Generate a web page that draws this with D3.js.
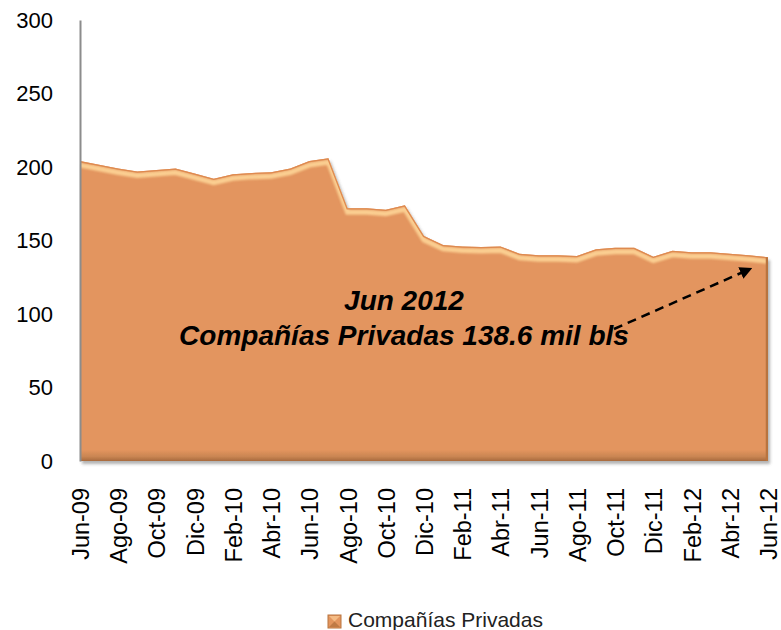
<!DOCTYPE html>
<html>
<head>
<meta charset="utf-8">
<script src="https://cdn.jsdelivr.net/npm/d3@7"></script>
<style>
  body { margin: 0; background: #fff; }
  svg { display: block; font-family: "Liberation Sans", Arial, sans-serif; }
</style>
</head>
<body>
<svg id="chart" width="781" height="630"></svg>
<script>
'use strict';

var months = ["Jun-09","Jul-09","Ago-09","Sep-09","Oct-09","Nov-09","Dic-09","Ene-10","Feb-10","Mar-10","Abr-10","May-10",
              "Jun-10","Jul-10","Ago-10","Sep-10","Oct-10","Nov-10","Dic-10","Ene-11","Feb-11","Mar-11","Abr-11","May-11",
              "Jun-11","Jul-11","Ago-11","Sep-11","Oct-11","Nov-11","Dic-11","Ene-12","Feb-12","Mar-12","Abr-12","May-12","Jun-12"];
var privadas = [204, 201.5, 199, 197, 198, 199, 195.5, 192, 195, 196, 196.5, 199,
                204, 206, 172, 172, 171, 174, 153, 147, 146, 145.5, 146, 141,
                140, 140, 139.5, 144, 145, 145, 139, 143, 142, 142, 141, 140, 138.6];
var yTicks = [0, 50, 100, 150, 200, 250, 300];
var seriesName = "Compañías Privadas";
var noteLines = ["Jun 2012", "Compañías Privadas 138.6 mil bls"];

var svg = d3.select("#chart"),
    margin = {top: 20, right: 13, bottom: 169, left: 80},
    width = +svg.attr("width") - margin.left - margin.right,
    height = +svg.attr("height") - margin.top - margin.bottom;

var x = d3.scalePoint().domain(months).range([margin.left, margin.left + width]);
var y = d3.scaleLinear().domain([0, 300]).range([margin.top + height, margin.top]);

var defs = svg.append("defs");

var fillGrad = defs.append("linearGradient")
    .attr("id", "fillGrad")
    .attr("gradientUnits", "userSpaceOnUse")
    .attr("x1", 0).attr("x2", 0)
    .attr("y1", y(300)).attr("y2", y(0));
fillGrad.append("stop").attr("offset", "0%").attr("stop-color", "#e3955e");
fillGrad.append("stop").attr("offset", "97.5%").attr("stop-color", "#e3955e");
fillGrad.append("stop").attr("offset", "99%").attr("stop-color", "#c98552");
fillGrad.append("stop").attr("offset", "100%").attr("stop-color", "#a86a3e");

var shadow = defs.append("filter").attr("id", "shadow")
    .attr("x", "-5%").attr("y", "-5%").attr("width", "110%").attr("height", "115%");
shadow.append("feDropShadow")
    .attr("dx", 2).attr("dy", 3).attr("stdDeviation", 1.5)
    .attr("flood-color", "#555").attr("flood-opacity", 0.45);

var soft = defs.append("filter").attr("id", "soft");
soft.append("feGaussianBlur").attr("stdDeviation", 1.2);

defs.append("marker")
    .attr("id", "arrow")
    .attr("viewBox", "0 0 10 10")
    .attr("refX", 8).attr("refY", 5)
    .attr("markerWidth", 5).attr("markerHeight", 5)
    .attr("orient", "auto")
  .append("path")
    .attr("d", "M0,0L10,5L0,10z")
    .attr("fill", "#000");

// area
var area = d3.area()
    .x(function(d, i) { return x(months[i]); })
    .y0(y(0))
    .y1(function(d) { return y(d); });

var line = d3.line()
    .x(function(d, i) { return x(months[i]); })
    .y(function(d) { return y(d); });

var g = svg.append("g");

g.append("path")
    .datum(privadas)
    .attr("d", area)
    .attr("fill", "url(#fillGrad)")
    .attr("filter", "url(#shadow)");

// bevel highlight along the top
var clip = defs.append("clipPath").attr("id", "areaClip");
clip.append("path").datum(privadas).attr("d", area);

var bevel = g.append("g").attr("clip-path", "url(#areaClip)");
bevel.append("path")
    .datum(privadas)
    .attr("d", line)
    .attr("transform", "translate(0,4)")
    .attr("fill", "none")
    .attr("stroke", "#fcd294")
    .attr("stroke-width", 5)
    .attr("opacity", 0.95)
    .attr("filter", "url(#soft)");
bevel.append("path")
    .datum(privadas)
    .attr("d", line)
    .attr("fill", "none")
    .attr("stroke", "#de8a50")
    .attr("stroke-width", 2.5);
bevel.append("line")
    .attr("x1", x(months[months.length - 1]) - 1)
    .attr("x2", x(months[months.length - 1]) - 1)
    .attr("y1", y(privadas[privadas.length - 1]))
    .attr("y2", y(0))
    .attr("stroke", "#b8743f")
    .attr("stroke-width", 2.5);

// y axis
var yAxis = svg.append("g")
    .attr("transform", "translate(" + margin.left + ",0)")
    .call(d3.axisLeft(y).tickValues(yTicks).tickSize(0).tickSizeOuter(0).tickPadding(27));
yAxis.select(".domain").attr("stroke", "#8c8c8c").attr("stroke-width", 2);
yAxis.selectAll("text")
    .attr("fill", "#000")
    .style("font-size", "22px");

// x axis
var xAxis = svg.append("g")
    .attr("transform", "translate(0," + y(0) + ")")
    .call(d3.axisBottom(x).tickValues(months.filter(function(d, i) { return i % 2 === 0; })).tickSize(0));
xAxis.select(".domain").remove();
xAxis.selectAll("text")
    .attr("fill", "#000")
    .style("font-size", "23.5px")
    .style("text-anchor", "end")
    .attr("x", -27)
    .attr("y", 0)
    .attr("dy", "0.36em")
    .attr("transform", "rotate(-90)");

// annotation
svg.append("line")
    .attr("x1", 614).attr("y1", 329)
    .attr("x2", 750).attr("y2", 269)
    .attr("stroke", "#000")
    .attr("stroke-width", 2.5)
    .attr("stroke-dasharray", "9,6")
    .attr("marker-end", "url(#arrow)");

svg.append("g")
    .selectAll("text")
    .data(noteLines)
    .enter().append("text")
      .attr("x", 404)
      .attr("y", function(d, i) { return 310 + i * 35; })
      .attr("text-anchor", "middle")
      .attr("fill", "#000")
      .style("font-size", "28px")
      .style("font-weight", "bold")
      .style("font-style", "italic")
      .text(function(d) { return d; });

// legend
var legend = svg.append("g").attr("transform", "translate(328,615)");
legend.append("rect")
    .attr("width", 13).attr("height", 13)
    .attr("fill", "#e3955e")
    .attr("stroke", "#b8743f")
    .attr("stroke-width", 1);
legend.append("path")
    .attr("d", "M1,1L12,1L6.5,6.5z")
    .attr("fill", "#f4bb84");
legend.append("path")
    .attr("d", "M1,12L12,12L6.5,6.5z")
    .attr("fill", "#c07a45");
legend.append("text")
    .attr("x", 20)
    .attr("y", 12)
    .attr("fill", "#222")
    .style("font-size", "21px")
    .text(seriesName);
</script>
</body>
</html>
